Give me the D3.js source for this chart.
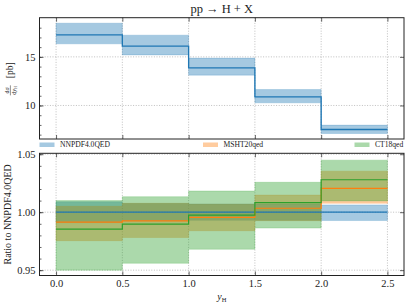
<!DOCTYPE html>
<html>
<head>
<meta charset="utf-8">
<script src="https://cdn.jsdelivr.net/npm/d3@7"></script>
<style>
  body { margin: 0; background: #fff; }
  svg text { font-family: "Liberation Serif", "DejaVu Serif", serif; fill: #222; }
</style>
</head>
<body>
<div id="vis"></div>
<script>
// rapidity bins
const binEdges = [0.0, 0.5, 1.0, 1.5, 2.0, 2.5];
const xTicks = [0.0, 0.5, 1.0, 1.5, 2.0, 2.5];

// top panel: dsigma/dy_H [pb], NNPDF4.0QED
const xsecCentral = [17.26, 16.10, 13.87, 10.88, 7.53];
const xsecLow     = [16.34, 15.20, 13.12, 10.27, 7.12];
const xsecHigh    = [18.46, 17.23, 14.87, 11.64, 7.98];

// bottom panel: ratio to NNPDF4.0QED
const nnpdfCentral = [1.0000, 1.0000, 1.0000, 1.0000, 1.0000];
const nnpdfLow     = [0.9910, 0.9925, 0.9930, 0.9930, 0.9928];
const nnpdfHigh    = [1.0090, 1.0075, 1.0070, 1.0070, 1.0063];

const mshtCentral = [0.9914, 0.9925, 0.9955, 1.0034, 1.0206];
const mshtLow     = [0.9754, 0.9782, 0.9840, 0.9927, 1.0077];
const mshtHigh    = [1.0051, 1.0077, 1.0069, 1.0148, 1.0354];

const ct18Central = [0.9854, 0.9897, 0.9975, 1.0083, 1.0280];
const ct18Low     = [0.9500, 0.9559, 0.9680, 0.9863, 1.0097];
const ct18High    = [1.0100, 1.0134, 1.0183, 1.0258, 1.0449];

const topYTicks = [10, 15];
const ratioYTicks = [0.95, 1.00, 1.05];

const seriesNames = ["NNPDF4.0QED", "MSHT20qed", "CT18qed"];
const seriesColors = ["#1f77b4", "#ff7f0e", "#2ca02c"];

const width = 407, height = 305;
const plotLeft = 39.5, plotRight = 404;
const top1 = 17.7, bottom1 = 139;
const top2 = 153.3, bottom2 = 275.5;

const svg = d3.select("#vis").append("svg")
    .attr("width", width)
    .attr("height", height);

// scales
const xScale = d3.scaleLinear()
    .domain([-0.125, 2.625])
    .range([plotLeft, plotRight]);

function padded(lo, hi) {
    const m = (hi - lo) * 0.05;
    return [lo - m, hi + m];
}

const yTop = d3.scaleLinear()
    .domain(padded(d3.min(xsecLow), d3.max(xsecHigh)))
    .range([bottom1, top1]);

const yRatio = d3.scaleLinear()
    .domain([0.9454, 1.0508])
    .range([bottom2, top2]);

// helper: turn per-bin values into step points
function steps(vals) {
    const pts = vals.map((v, i) => [binEdges[i], v]);
    pts.push([binEdges[binEdges.length - 1], vals[vals.length - 1]]);
    return pts;
}
function bandPts(lo, hi) {
    const l = steps(lo), h = steps(hi);
    return l.map((p, i) => ({x: p[0], lo: p[1], hi: h[i][1]}));
}

function drawGrid(g, y, yTicks, y0, y1) {
    g.append("g").selectAll("line.vx")
        .data(xTicks)
        .join("line")
        .attr("x1", d => xScale(d)).attr("x2", d => xScale(d))
        .attr("y1", y0).attr("y2", y1)
        .attr("stroke", "#b0b0b0").attr("stroke-width", 0.8)
        .attr("stroke-dasharray", "1,1.6");
    g.append("g").selectAll("line.hy")
        .data(yTicks)
        .join("line")
        .attr("x1", plotLeft).attr("x2", plotRight)
        .attr("y1", d => y(d)).attr("y2", d => y(d))
        .attr("stroke", "#b0b0b0").attr("stroke-width", 0.8)
        .attr("stroke-dasharray", "1,1.6");
}

function drawBand(g, y, lo, hi, color, central) {
    const area = d3.area()
        .x(d => xScale(d.x))
        .y0(d => y(d.lo))
        .y1(d => y(d.hi))
        .curve(d3.curveStepAfter);
    g.append("path")
        .attr("d", area(bandPts(lo, hi)))
        .attr("fill", color)
        .attr("fill-opacity", 0.4)
        .attr("stroke", color)
        .attr("stroke-opacity", 0.25)
        .attr("stroke-width", 0.8);
}

function drawLine(g, y, vals, color, w) {
    const line = d3.line()
        .x(d => xScale(d[0]))
        .y(d => y(d[1]))
        .curve(d3.curveStepAfter);
    g.append("path")
        .attr("d", line(steps(vals)))
        .attr("fill", "none")
        .attr("stroke", color)
        .attr("stroke-width", w);
}

function drawAxes(y, y0, y1, majors, minors, showX) {
    const fmtY = majors[0] < 2 ? d3.format(".2f") : d3.format("d");
    // left
    const left = svg.append("g").attr("transform", `translate(${plotLeft},0)`);
    left.call(d3.axisLeft(y).tickValues(minors).tickSize(-2).tickFormat(""));
    left.call(g => g.selectAll(".domain").remove());
    const leftMaj = svg.append("g").attr("transform", `translate(${plotLeft},0)`)
        .call(d3.axisLeft(y).tickValues(majors).tickSize(-4).tickPadding(4).tickFormat(fmtY));
    leftMaj.select(".domain").remove();
    leftMaj.selectAll("text").attr("font-size", 10.5).attr("font-family", null);
    // right
    const right = svg.append("g").attr("transform", `translate(${plotRight},0)`);
    right.call(d3.axisRight(y).tickValues(minors).tickSize(-2).tickFormat(""));
    right.call(d3.axisRight(y).tickValues(majors).tickSize(-4).tickFormat(""));
    right.selectAll(".domain").remove();
    // top
    const topAx = svg.append("g").attr("transform", `translate(0,${y1})`)
        .call(d3.axisTop(xScale).tickValues(xTicks).tickSize(-4).tickFormat(""));
    topAx.select(".domain").remove();
    // bottom
    const bot = svg.append("g").attr("transform", `translate(0,${y0})`)
        .call(d3.axisBottom(xScale).tickValues(xTicks).tickSize(-4).tickPadding(4)
            .tickFormat(showX ? d3.format(".1f") : ""));
    bot.select(".domain").remove();
    bot.selectAll("text").attr("font-size", 10.5).attr("font-family", null);
    svg.selectAll(".tick line").attr("stroke", "#222").attr("stroke-width", 0.7);
    // frame
    svg.append("rect")
        .attr("x", plotLeft).attr("y", y1)
        .attr("width", plotRight - plotLeft).attr("height", y0 - y1)
        .attr("fill", "none").attr("stroke", "#222").attr("stroke-width", 1);
}

// ---------------- top panel
const g1 = svg.append("g");
drawGrid(g1, yTop, topYTicks, top1, bottom1);
drawBand(g1, yTop, xsecLow, xsecHigh, seriesColors[0]);
drawLine(g1, yTop, xsecCentral, seriesColors[0], 1.3);
drawAxes(yTop, bottom1, top1, topYTicks, d3.range(7, 19), false);

// ---------------- bottom panel
const g2 = svg.append("g");
drawGrid(g2, yRatio, ratioYTicks, top2, bottom2);
drawBand(g2, yRatio, nnpdfLow, nnpdfHigh, seriesColors[0]);
drawBand(g2, yRatio, mshtLow, mshtHigh, seriesColors[1]);
drawBand(g2, yRatio, ct18Low, ct18High, seriesColors[2]);
drawLine(g2, yRatio, nnpdfCentral, seriesColors[0], 1.2);
drawLine(g2, yRatio, mshtCentral, seriesColors[1], 1.2);
drawLine(g2, yRatio, ct18Central, seriesColors[2], 1.2);
drawAxes(yRatio, bottom2, top2, ratioYTicks, d3.range(0.95, 1.051, 0.01).map(v => +v.toFixed(2)), true);

// ---------------- legend
const legendX = [39.5, 203, 354.5];
const legend = svg.append("g").selectAll("g")
    .data(seriesNames)
    .join("g")
    .attr("transform", (d, i) => `translate(${legendX[i]},142.5)`);
legend.append("rect")
    .attr("width", 15).attr("height", 4.5)
    .attr("fill", (d, i) => seriesColors[i])
    .attr("fill-opacity", 0.4);
legend.append("text")
    .attr("x", 20.5).attr("y", 4.5)
    .attr("font-size", 7.6)
    .text(d => d);

// ---------------- title and labels
svg.append("text")
    .attr("x", (plotLeft + plotRight) / 2).attr("y", 13)
    .attr("text-anchor", "middle")
    .attr("font-size", 12.5)
    .text("pp \u2192 H + X");

// y label top: d sigma / d y_H [pb]
const yl = svg.append("g")
    .attr("transform", `translate(13,${(top1 + bottom1) / 2}) rotate(-90)`);
yl.append("text").attr("x", -12).attr("y", -4.2).attr("text-anchor", "middle")
    .attr("font-size", 6).text("d\u03c3");
yl.append("line").attr("x1", -17).attr("x2", -7).attr("y1", -2.6).attr("y2", -2.6)
    .attr("stroke", "#222").attr("stroke-width", 0.5);
const den = yl.append("text").attr("x", -12).attr("y", 2.8).attr("text-anchor", "middle")
    .attr("font-size", 6);
den.append("tspan").text("d");
den.append("tspan").attr("font-style", "italic").text("y");
den.append("tspan").attr("font-size", 4.2).attr("dy", 1).text("H");
yl.append("text").attr("x", 8).attr("y", 0).attr("text-anchor", "middle")
    .attr("font-size", 9.5).text("[pb]");

svg.append("text")
    .attr("transform", `translate(10.5,${(top2 + bottom2) / 2}) rotate(-90)`)
    .attr("text-anchor", "middle")
    .attr("font-size", 10)
    .text("Ratio to NNPDF4.0QED");

const xl = svg.append("text")
    .attr("x", (plotLeft + plotRight) / 2).attr("y", 300)
    .attr("text-anchor", "middle")
    .attr("font-size", 10);
xl.append("tspan").attr("font-style", "italic").text("y");
xl.append("tspan").attr("font-size", 6.5).attr("dy", 1.5).text("H");
</script>
</body>
</html>
